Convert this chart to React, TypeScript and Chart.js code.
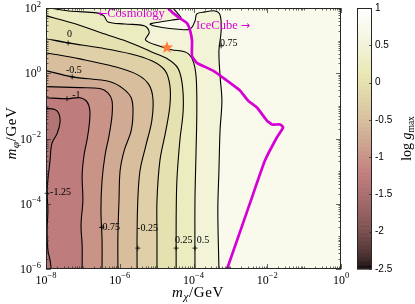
import React, { useEffect, useRef } from 'react';
import { Chart, registerables } from 'chart.js';

Chart.register(...registerables);

// ---------- data: all coordinates are log10(mass / GeV) ----------
const xRange = [-8, 0];
const yRange = [-6, 2];
const xTickExps = [-8, -6, -4, -2, 0];
const yTickExps = [-6, -4, -2, 0, 2];
const colorbarTicks = [1, 0.5, 0, -0.5, -1, -1.5, -2, -2.5];
const colorRange = [-2.5, 1];
const contourLevels = [-1.25, -1, -0.75, -0.5, -0.25, 0, 0.25, 0.5, 0.75];
const lowestBandValue = -1.4;

const contourM125 = [[-8, -1.08], [-7.76, -1.11], [-7.65, -1.24], [-7.62, -1.51], [-7.7, -1.85], [-7.84, -2.15], [-7.89, -2.67], [-7.95, -3.28], [-7.97, -3.65], [-7.95, -4.2], [-7.97, -4.81], [-7.95, -5.42], [-7.89, -5.73], [-7.86, -6]];
const contourM100 = [[-8, -0.75], [-7.43, -0.78], [-7.08, -0.75], [-6.89, -0.87], [-6.81, -1.15], [-6.83, -1.6], [-6.89, -2.06], [-6.97, -2.52], [-7.02, -3.13], [-7.0, -3.89], [-7.05, -4.66], [-7.02, -5.27], [-7.02, -6]];
const contourM075 = [[-8, -0.41], [-7.08, -0.44], [-6.54, -0.47], [-6.32, -0.6], [-6.21, -0.84], [-6.21, -1.3], [-6.29, -1.91], [-6.4, -2.52], [-6.48, -3.28], [-6.51, -4.2], [-6.48, -5.11], [-6.48, -6]];
const contourM050 = [[-8, 0.08], [-7.29, -0.11], [-6.26, -0.26], [-5.91, -0.47], [-5.69, -0.75], [-5.64, -1.15], [-5.69, -1.76], [-5.88, -2.37], [-5.99, -2.98], [-6.02, -3.89], [-6.05, -4.96], [-6.05, -6]];
const contourM025 = [[-8, 0.63], [-7.08, 0.44], [-6.13, 0.2], [-5.51, -0.05], [-5.21, -0.35], [-5.1, -0.78], [-5.13, -1.45], [-5.29, -2.21], [-5.45, -2.98], [-5.51, -3.89], [-5.53, -4.96], [-5.53, -6]];
const contourP000 = [[-8, 1.06], [-7.4, 0.93], [-6.54, 0.78], [-5.72, 0.6], [-5.13, 0.38], [-4.77, 0.08], [-4.64, -0.38], [-4.64, -0.99], [-4.75, -1.76], [-4.91, -2.67], [-4.99, -3.89], [-4.99, -4.96], [-4.99, -6]];
const contourP025 = [[-8, 1.76], [-7.21, 1.52], [-6.4, 1.2], [-5.7, 0.93], [-5.15, 0.66], [-4.72, 0.45], [-4.42, 0.15], [-4.3, -0.38], [-4.28, -1.15], [-4.37, -2.06], [-4.45, -3.28], [-4.47, -4.5], [-4.47, -6]];
const contourP050 = [[-7.9, 2], [-7.3, 1.9], [-6.62, 1.85], [-6.43, 1.76], [-6.32, 1.57], [-5.86, 1.51], [-5.32, 1.45], [-5.2, 1.25], [-5.3, 1.02], [-4.95, 0.84], [-4.6, 0.72], [-4.2, 0.64], [-4.02, 0.4], [-3.93, -0.1], [-3.91, -1.15], [-3.93, -2.37], [-3.96, -3.89], [-3.96, -6]];
const contourP075 = [[-4.56, 2], [-4.42, 1.82], [-4.34, 1.69], [-4.58, 1.63], [-4.91, 1.57], [-5.18, 1.5], [-4.85, 1.4], [-4.42, 1.35], [-4.09, 1.36], [-3.96, 1.6], [-3.91, 1.82], [-3.69, 1.88], [-3.42, 1.91], [-3.28, 1.79], [-3.25, 1.3], [-3.31, 0.69], [-3.28, -0.08], [-3.23, -0.84], [-3.28, -1.76], [-3.31, -2.98], [-3.34, -4.2], [-3.31, -6]];
const contourLines = [contourM125, contourM100, contourM075, contourM050, contourM025, contourP000, contourP025, contourP050, contourP075];

const iceCubeBoundary = [[-4.69, 2], [-4.56, 1.85], [-4.37, 1.69], [-4.18, 1.54], [-4.09, 1.3], [-4.04, 0.99], [-4.04, 0.53], [-3.91, 0.32], [-3.47, 0.08], [-3.09, -0.23], [-2.74, -0.53], [-2.52, -0.84], [-2.28, -1.05], [-2.01, -1.45], [-1.87, -1.57], [-1.65, -1.57], [-1.57, -1.66], [-1.74, -1.97], [-2.06, -2.67], [-2.44, -3.89], [-3.09, -6]];
const benchmarkStar = [[-4.72, 0.8]];

const contourLabelText = ['0', '-0.5', '-1', '-1.25', '-0.75', '-0.25', '0.25', '0.5', '0.75'];
const contourLabelPos = [[-7.43, 1.18], [-7.46, 0.08], [-7.29, -0.69], [-7.89, -3.65], [-6.56, -4.72], [-5.53, -4.75], [-4.5, -5.11], [-3.91, -5.11], [-3.28, 0.93]];
const contourLabelMark = [[-7.4, 0.93], [-7.29, -0.11], [-7.43, -0.78], [-7.97, -3.68], [-6.48, -4.72], [-5.51, -5.36], [-4.47, -5.36], [-3.96, -5.36], [-3.25, 0.84]];

const cosmologyText = ['\u2190', 'Cosmology'];
const iceCubeText = ['IceCube ', '\u2192'];
const cosmologyPos = [-6.59, 1.82];
const iceCubePos = [-3.93, 1.45];

// ---------- styles ----------
const SERIF = '"Liberation Serif", "DejaVu Serif", serif';
const SANS = '"Liberation Sans", Arial, sans-serif';
const ARROW = '"DejaVu Sans", "Noto Sans", sans-serif';
const AXIS = '#262626';
const MAGENTA = '#d600d6';
const TENSION = 0.35;

function pink(t: number): string {
  t = Math.max(0, Math.min(1, t));
  const hr = Math.min(1, t / 0.375);
  const hg = Math.min(1, Math.max(0, (t - 0.375) / 0.375));
  const hb = Math.min(1, Math.max(0, (t - 0.75) / 0.25));
  const c = [hr, hg, hb].map((h) => Math.round(Math.sqrt((2 * t + h) / 3) * 255));
  return `rgb(${c[0]},${c[1]},${c[2]})`;
}
const colorFor = (v: number) => pink((v - colorRange[0]) / (colorRange[1] - colorRange[0]));

type Seg = { t: string; f: string; dy?: number };
function segsWidth(ctx: CanvasRenderingContext2D, segs: Seg[]) {
  let w = 0;
  for (const s of segs) { ctx.font = s.f; w += ctx.measureText(s.t).width; }
  return w;
}
function drawSegs(ctx: CanvasRenderingContext2D, segs: Seg[], x: number, y: number) {
  let cx = x;
  for (const s of segs) {
    ctx.font = s.f;
    ctx.fillText(s.t, cx, y + (s.dy || 0));
    cx += ctx.measureText(s.t).width;
  }
}
const powSegs = (e: number): Seg[] => [
  { t: '10', f: `12px ${SERIF}` },
  { t: e < 0 ? '\u2212' + Math.abs(e) : String(e), f: `8.5px ${SERIF}`, dy: -5.5 },
];

function makeStar() {
  const c = document.createElement('canvas');
  c.width = 14; c.height = 14;
  const g = c.getContext('2d')!;
  g.beginPath();
  for (let i = 0; i < 10; i++) {
    const r = i % 2 === 0 ? 6.5 : 2.7;
    const a = -Math.PI / 2 + (i * Math.PI) / 5;
    const px = 7 + r * Math.cos(a), py = 7.5 + r * Math.sin(a);
    i === 0 ? g.moveTo(px, py) : g.lineTo(px, py);
  }
  g.closePath();
  g.fillStyle = '#ff7b3a';
  g.fill();
  return c;
}

const CONTOUR_DS_OFFSET = 2;

const fillPlugin = {
  id: 'contourFill',
  beforeDatasetsDraw(chart: any) {
    const { ctx, chartArea: a, scales } = chart;
    const xs = scales.x, ys = scales.y;
    ctx.save();
    ctx.beginPath();
    ctx.rect(a.left, a.top, a.right - a.left, a.bottom - a.top);
    ctx.clip();
    ctx.fillStyle = colorFor(lowestBandValue);
    ctx.fillRect(a.left, a.top, a.right - a.left, a.bottom - a.top);
    contourLines.forEach((pts, i) => {
      const line = chart.getDatasetMeta(i + CONTOUR_DS_OFFSET).dataset;
      ctx.beginPath();
      let traced = false;
      if (line && typeof line.path === 'function') {
        if (typeof line.updateControlPoints === 'function') line.updateControlPoints(a, 'x');
        line.path(ctx);
        traced = true;
      }
      if (!traced) {
        pts.forEach(([vx, vy], j) => {
          const px = xs.getPixelForValue(vx), py = ys.getPixelForValue(vy);
          if (j === 0) ctx.moveTo(px, py); else ctx.lineTo(px, py);
        });
      }
      const corners = [[xRange[1], yRange[0]], [xRange[1], yRange[1]]];
      if (pts[0][0] === xRange[0]) corners.push([xRange[0], yRange[1]]);
      corners.forEach(([vx, vy]) => ctx.lineTo(xs.getPixelForValue(vx), ys.getPixelForValue(vy)));
      ctx.closePath();
      ctx.fillStyle = colorFor(contourLevels[i]);
      ctx.fill();
    });
    ctx.restore();
  },
};

const decorPlugin = {
  id: 'decor',
  afterDraw(chart: any) {
    const { ctx, chartArea: a, scales } = chart;
    const xs = scales.x, ys = scales.y, cb = scales.cb;
    ctx.save();

    // contour labels
    ctx.fillStyle = '#000';
    ctx.strokeStyle = '#000';
    ctx.textAlign = 'left';
    ctx.textBaseline = 'middle';
    ctx.font = `10px ${SERIF}`;
    contourLabelText.forEach((t, i) => {
      ctx.fillText(t, xs.getPixelForValue(contourLabelPos[i][0]), ys.getPixelForValue(contourLabelPos[i][1]));
      const mx = xs.getPixelForValue(contourLabelMark[i][0]);
      const my = ys.getPixelForValue(contourLabelMark[i][1]);
      ctx.lineWidth = 0.8;
      ctx.beginPath();
      ctx.moveTo(mx - 2.5, my); ctx.lineTo(mx + 2.5, my);
      ctx.moveTo(mx, my - 2.5); ctx.lineTo(mx, my + 2.5);
      ctx.stroke();
    });

    // region annotations
    ctx.fillStyle = MAGENTA;
    drawSegs(ctx, [
      { t: cosmologyText[0], f: `11px ${ARROW}` },
      { t: cosmologyText[1], f: `12.5px ${SERIF}` },
    ], xs.getPixelForValue(cosmologyPos[0]), ys.getPixelForValue(cosmologyPos[1]));
    drawSegs(ctx, [
      { t: iceCubeText[0], f: `12.5px ${SERIF}` },
      { t: iceCubeText[1], f: `11px ${ARROW}` },
    ], xs.getPixelForValue(iceCubePos[0]), ys.getPixelForValue(iceCubePos[1]));

    // frame and ticks
    ctx.strokeStyle = AXIS;
    ctx.lineWidth = 1;
    ctx.strokeRect(Math.round(a.left) + 0.5, Math.round(a.top) + 0.5, Math.round(a.right - a.left) - 1, Math.round(a.bottom - a.top) - 1);
    ctx.lineWidth = 0.7;
    ctx.beginPath();
    for (let e = xRange[0]; e <= xRange[1]; e++) {
      for (let k = 1; k <= 9; k++) {
        if (e === xRange[1] && k > 1) break;
        const v = e + Math.log10(k);
        const px = Math.round(xs.getPixelForValue(v)) + 0.5;
        const len = k === 1 && xTickExps.includes(e) ? 5 : 2.5;
        ctx.moveTo(px, a.bottom); ctx.lineTo(px, a.bottom - len);
        ctx.moveTo(px, a.top); ctx.lineTo(px, a.top + len);
      }
    }
    for (let e = yRange[0]; e <= yRange[1]; e++) {
      for (let k = 1; k <= 9; k++) {
        if (e === yRange[1] && k > 1) break;
        const v = e + Math.log10(k);
        const py = Math.round(ys.getPixelForValue(v)) + 0.5;
        const len = k === 1 && yTickExps.includes(e) ? 5 : 2.5;
        ctx.moveTo(a.left, py); ctx.lineTo(a.left + len, py);
        ctx.moveTo(a.right, py); ctx.lineTo(a.right - len, py);
      }
    }
    ctx.stroke();

    // tick labels
    ctx.fillStyle = '#000';
    ctx.textAlign = 'left';
    ctx.textBaseline = 'alphabetic';
    xTickExps.forEach((e) => {
      const segs = powSegs(e);
      const w = segsWidth(ctx, segs);
      drawSegs(ctx, segs, xs.getPixelForValue(e) - w / 2, a.bottom + 14.5);
    });
    yTickExps.forEach((e) => {
      const segs = powSegs(e);
      const w = segsWidth(ctx, segs);
      drawSegs(ctx, segs, a.left - 5 - w, ys.getPixelForValue(e) + 4);
    });

    // axis titles
    const xt: Seg[] = [
      { t: 'm', f: `italic 15px ${SERIF}` },
      { t: '\u03c7', f: `italic 11px ${SERIF}`, dy: 3 },
      { t: '/GeV', f: `15px ${SERIF}` },
    ];
    (ctx as any).letterSpacing = '0.6px';
    const xw = segsWidth(ctx, xt);
    drawSegs(ctx, xt, 198 - xw / 2, 297);

    const yt: Seg[] = [
      { t: 'm', f: `italic 15px ${SERIF}` },
      { t: '\u03c6', f: `italic 11px ${SERIF}`, dy: 3 },
      { t: '/GeV', f: `15px ${SERIF}` },
    ];
    const yw = segsWidth(ctx, yt);
    ctx.save();
    ctx.translate(16, 133);
    ctx.rotate(-Math.PI / 2);
    drawSegs(ctx, yt, -yw / 2, 0);
    ctx.restore();
    (ctx as any).letterSpacing = '0px';

    // colorbar
    const cx0 = 357, cx1 = 372;
    const n = 64;
    const step = (colorRange[1] - colorRange[0]) / n;
    for (let i = 0; i < n; i++) {
      const v0 = colorRange[0] + i * step;
      const y0 = cb.getPixelForValue(v0), y1 = cb.getPixelForValue(v0 + step);
      ctx.fillStyle = pink((i + 0.5) / n);
      ctx.fillRect(cx0, y1, cx1 - cx0, y0 - y1 + 0.6);
    }
    ctx.strokeStyle = AXIS;
    ctx.lineWidth = 1;
    const cTop = cb.getPixelForValue(colorRange[1]), cBot = cb.getPixelForValue(colorRange[0]);
    ctx.strokeRect(cx0 + 0.5, Math.round(cTop) + 0.5, cx1 - cx0 - 1, Math.round(cBot - cTop) - 1);
    ctx.lineWidth = 0.7;
    ctx.beginPath();
    colorbarTicks.forEach((v) => {
      const py = Math.round(cb.getPixelForValue(v)) + 0.5;
      ctx.moveTo(cx1 - 0.5, py); ctx.lineTo(cx1 - 3, py);
    });
    ctx.stroke();
    ctx.fillStyle = '#000';
    ctx.font = `10px ${SANS}`;
    ctx.textBaseline = 'middle';
    colorbarTicks.forEach((v) => {
      ctx.fillText(String(v), 375, cb.getPixelForValue(v));
    });

    const ct: Seg[] = [
      { t: 'log ', f: `14px ${SERIF}` },
      { t: 'g', f: `italic 14px ${SERIF}` },
      { t: 'max', f: `9.5px ${SERIF}`, dy: 3 },
    ];
    const cw = segsWidth(ctx, ct);
    ctx.textBaseline = 'alphabetic';
    ctx.save();
    ctx.translate(411, (a.top + a.bottom) / 2);
    ctx.rotate(-Math.PI / 2);
    drawSegs(ctx, ct, -cw / 2, 0);
    ctx.restore();

    ctx.restore();
  },
};

const toXY = (p: number[]) => ({ x: p[0], y: p[1] });

export default function App() {
  const ref = useRef<HTMLCanvasElement>(null);
  useEffect(() => {
    const canvas = ref.current!;
    const star = makeStar();
    const datasets: any[] = [
      { data: benchmarkStar.map(toXY), pointStyle: star, pointRadius: 7, order: 0 },
      { data: iceCubeBoundary.map(toXY), showLine: true, borderColor: MAGENTA, borderWidth: 2.7, pointRadius: 0, tension: 0.15, order: 1 },
      ...contourLines.map((pts) => ({
        data: pts.map(toXY), showLine: true, borderColor: '#000', borderWidth: 1.1, pointRadius: 0, tension: TENSION, order: 2,
      })),
    ];
    const chart = new Chart(canvas, {
      type: 'scatter',
      data: { datasets },
      options: {
        animation: false,
        responsive: false,
        events: [],
        layout: { padding: { left: 46, right: 74, top: 7, bottom: 35 } },
        elements: { line: { capBezierPoints: true } },
        scales: {
          x: { type: 'linear', min: xRange[0], max: xRange[1], display: false },
          y: { type: 'linear', min: yRange[0], max: yRange[1], display: false },
          cb: { type: 'linear', axis: 'y', position: 'right', min: colorRange[0], max: colorRange[1], display: false },
        },
        plugins: { legend: { display: false }, tooltip: { enabled: false } },
      } as any,
      plugins: [fillPlugin, decorPlugin],
    });
    return () => chart.destroy();
  }, []);
  return (
    <div style={{ position: 'fixed', left: 0, top: 0, width: 415, height: 304, background: '#fff' }}>
      <canvas ref={ref} width={415} height={304} style={{ display: 'block', width: 415, height: 304 }} />
    </div>
  );
}
